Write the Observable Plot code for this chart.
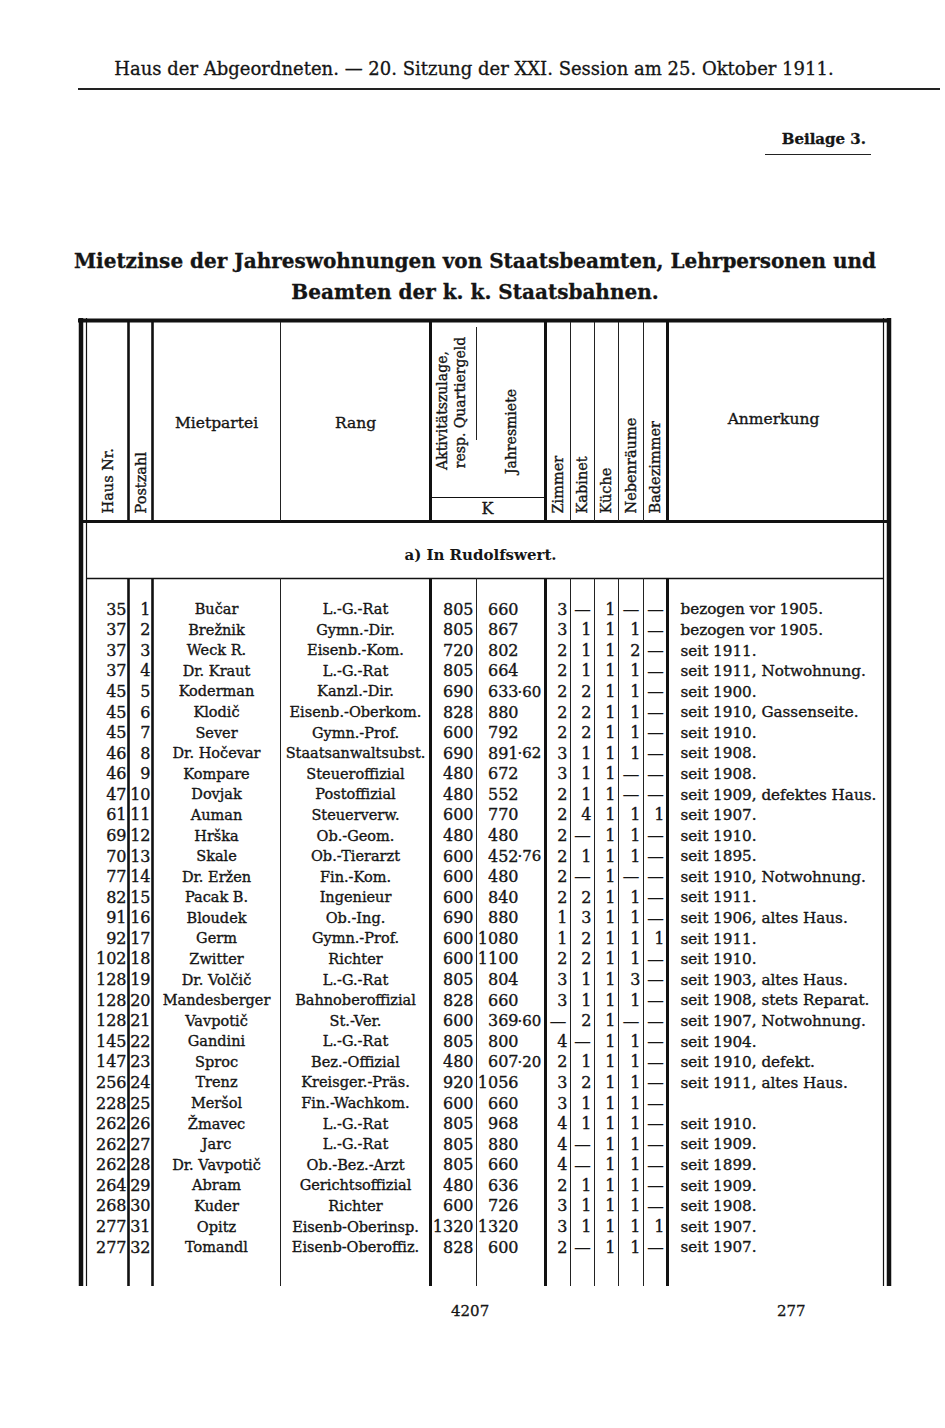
<!DOCTYPE html>
<html><head><meta charset="utf-8">
<script src="https://cdn.jsdelivr.net/npm/d3@7"></script>
<script src="https://cdn.jsdelivr.net/npm/@observablehq/plot@0.6"></script>
<style>
body{margin:0;background:#fff;}
#page{position:relative;width:945px;height:1428px;overflow:hidden;font-family:"DejaVu Serif",serif;color:#151515;}
.abs{position:absolute;white-space:nowrap;-webkit-text-stroke:0.3px #151515;}
</style></head><body><div id="page">
<div class="abs" style="left:0;width:948px;top:58px;text-align:center;font-size:18px;">Haus der Abgeordneten. — 20. Sitzung der XXI. Session am 25. Oktober 1911.</div>
<div class="abs" style="left:78px;width:862px;top:88px;border-top:2px solid #222;"></div>
<div class="abs" style="right:79px;top:130px;font-size:15px;font-weight:bold;">Beilage 3.</div>
<div class="abs" style="left:765px;width:106px;top:154px;border-top:1.5px solid #222"></div>
<div class="abs" style="left:0;width:950px;top:246px;text-align:center;font-size:20px;font-weight:bold;line-height:31px">Mietzinse der Jahreswohnungen von Staatsbeamten, Lehrpersonen und<br>Beamten der k. k. Staatsbahnen.</div>
<div id="chart" class="abs" style="left:0;top:318px;-webkit-text-stroke:0"></div>
<div class="abs" style="left:451px;top:1302px;font-size:15px">4207</div>
<div class="abs" style="left:777px;top:1302px;font-size:15px">277</div>
</div>
<script>
// ---------- data ----------
const hausNr = [35,37,37,37,45,45,45,46,46,47,61,69,70,77,82,91,92,102,128,128,128,145,147,256,228,262,262,262,264,268,277,277];
const postzahl = [1,2,3,4,5,6,7,8,9,10,11,12,13,14,15,16,17,18,19,20,21,22,23,24,25,26,27,28,29,30,31,32];
const mietpartei = ["Bučar","Brežnik","Weck R.","Dr. Kraut","Koderman","Klodič","Sever","Dr. Hočevar","Kompare","Dovjak","Auman","Hrška","Skale","Dr. Eržen","Pacak B.","Bloudek","Germ","Zwitter","Dr. Volčič","Mandesberger","Vavpotič","Gandini","Sproc","Trenz","Meršol","Žmavec","Jarc","Dr. Vavpotič","Abram","Kuder","Opitz","Tomandl"];
const rang = ["L.-G.-Rat","Gymn.-Dir.","Eisenb.-Kom.","L.-G.-Rat","Kanzl.-Dir.","Eisenb.-Oberkom.","Gymn.-Prof.","Staatsanwaltsubst.","Steueroffizial","Postoffizial","Steuerverw.","Ob.-Geom.","Ob.-Tierarzt","Fin.-Kom.","Ingenieur","Ob.-Ing.","Gymn.-Prof.","Richter","L.-G.-Rat","Bahnoberoffizial","St.-Ver.","L.-G.-Rat","Bez.-Offizial","Kreisger.-Präs.","Fin.-Wachkom.","L.-G.-Rat","L.-G.-Rat","Ob.-Bez.-Arzt","Gerichtsoffizial","Richter","Eisenb-Oberinsp.","Eisenb-Oberoffiz."];
const aktivitaet = [805,805,720,805,690,828,600,690,480,480,600,480,600,600,600,690,600,600,805,828,600,805,480,920,600,805,805,805,480,600,1320,828];
const jahresmiete = [660,867,802,664,633.60,880,792,891.62,672,552,770,480,452.76,480,840,880,1080,1100,804,660,369.60,800,607.20,1056,660,968,880,660,636,726,1320,600];
const zimmer = [3,3,2,2,2,2,2,3,3,2,2,2,2,2,2,1,1,2,3,3,null,4,2,3,3,4,4,4,2,3,3,2];
const kabinet = [null,1,1,1,2,2,2,1,1,1,4,null,1,null,2,3,2,2,1,1,2,null,1,2,1,1,null,null,1,1,1,null];
const kueche = [1,1,1,1,1,1,1,1,1,1,1,1,1,1,1,1,1,1,1,1,1,1,1,1,1,1,1,1,1,1,1,1];
const nebenraeume = [null,1,2,1,1,1,1,1,null,null,1,1,1,null,1,1,1,1,3,1,null,1,1,1,1,1,1,1,1,1,1,1];
const badezimmer = [null,null,null,null,null,null,null,null,null,null,1,null,null,null,null,null,1,null,null,null,null,null,null,null,null,null,null,null,null,null,1,null];
const anmerkung = ["bezogen vor 1905.","bezogen vor 1905.","seit 1911.","seit 1911, Notwohnung.","seit 1900.","seit 1910, Gassenseite.","seit 1910.","seit 1908.","seit 1908.","seit 1909, defektes Haus.","seit 1907.","seit 1910.","seit 1895.","seit 1910, Notwohnung.","seit 1911.","seit 1906, altes Haus.","seit 1911.","seit 1910.","seit 1903, altes Haus.","seit 1908, stets Reparat.","seit 1907, Notwohnung.","seit 1904.","seit 1910, defekt.","seit 1911, altes Haus.","","seit 1910.","seit 1909.","seit 1899.","seit 1909.","seit 1908.","seit 1907.","seit 1907."];
const sectionLabel = "a) In Rudolfswert.";

// ---------- layout (not data) ----------
const W = 945, H = 972, TOP = 318, ROW0 = 609, ROWH = 20.58;
const py = (pageY) => (pageY - ROW0) / ROWH;   // page pixel -> row units
const col = {
  haus:[86,128], post:[128,152], miet:[152,280], rang:[280,430], aktiv:[430,476], miete:[476,545],
  zimmer:[545,570], kabinet:[570,594], kueche:[594,618], neben:[618,643], bad:[643,667], anm:[667,884]
};
const SERIF = "DejaVu Serif";
const INK = "#151515";
const ink = {fill: INK, stroke: INK, strokeWidth: 0.35};

const rows = hausNr.map((h, i) => ({
  i, haus: String(h), post: String(postzahl[i]), miet: mietpartei[i], rang: rang[i], aktiv: String(aktivitaet[i]),
  mieteInt: String(Math.floor(jahresmiete[i])),
  mieteDec: Number.isInteger(jahresmiete[i]) ? "" : "·" + d3.format("02d")(Math.round((jahresmiete[i] % 1) * 100)),
  anm: anmerkung[i]
}));
const roomCols = [["zimmer", zimmer], ["kabinet", kabinet], ["kueche", kueche], ["neben", nebenraeume], ["bad", badezimmer]];
const roomCells = roomCols.flatMap(([k, arr]) => arr.map((v, i) => ({k, i, v: v == null ? null : String(v)})));

const vThick = [128,152,430,545,667].map(x => ({x, w: x === 128 || x === 152 ? 2.6 : 3}));
const vThin = [280,570,594,618,643].map(x => ({x}));

const headerRotStart = [
  {x: 108, y: py(513), t: "Haus Nr."},
  {x: 141, y: py(513), t: "Postzahl"},
  {x: 558, y: py(513), t: "Zimmer"},
  {x: 582, y: py(513), t: "Kabinet"},
  {x: 606, y: py(513), t: "Küche"},
  {x: 631, y: py(513), t: "Nebenräume"},
  {x: 655, y: py(513), t: "Badezimmer"}
];
const headerRotMid = [
  {x: 442, y: py(410), t: "Aktivitätszulage,"},
  {x: 460, y: py(402), t: "resp. Quartiergeld"},
  {x: 511, y: py(431), t: "Jahresmiete"}
];
const headerFlat = [
  {x: 216, y: py(423), t: "Mietpartei"},
  {x: 355, y: py(423), t: "Rang"},
  {x: 773, y: py(419), t: "Anmerkung"}
];

const bodyTop = py(578), bodyBot = py(1286);
const plot = Plot.plot({
  width: W, height: H, margin: 0,
  x: {domain: [0, W], range: [0, W], axis: null},
  y: {domain: [py(TOP), py(TOP + H)], range: [0, H], axis: null},
  style: {fontFamily: SERIF, color: INK, background: "transparent"},
  marks: [
    // outer frame
    Plot.ruleX([{x: 80.5, w: 4.5}, {x: 86, w: 1.2}, {x: 883, w: 1.2}, {x: 888.5, w: 4.5}], {x: "x", y1: py(318), y2: bodyBot, strokeWidth: "w", stroke: "#111"}),
    Plot.ruleY([py(320)], {x1: 78, x2: 891, strokeWidth: 4, stroke: "#111"}),
    Plot.ruleY([py(521)], {x1: 80, x2: 889, strokeWidth: 3, stroke: "#111"}),
    Plot.ruleY([py(578)], {x1: 86, x2: 883, strokeWidth: 1.6, stroke: "#111"}),
    Plot.ruleY([py(497)], {x1: 430, x2: 545, strokeWidth: 1, stroke: "#111"}),
    // column separators: header part and body part
    Plot.ruleX(vThick, {x: "x", y1: py(322), y2: py(521), strokeWidth: "w", stroke: "#111"}),
    Plot.ruleX(vThick, {x: "x", y1: bodyTop, y2: bodyBot, strokeWidth: "w", stroke: "#111"}),
    Plot.ruleX(vThin, {x: "x", y1: py(322), y2: py(521), strokeWidth: 1, stroke: "#222"}),
    Plot.ruleX(vThin, {x: "x", y1: bodyTop, y2: bodyBot, strokeWidth: 1, stroke: "#222"}),
    Plot.ruleX([476], {y1: py(327), y2: py(440), strokeWidth: 1, stroke: "#222"}),
    Plot.ruleX([476], {y1: bodyTop, y2: bodyBot, strokeWidth: 1, stroke: "#222"}),
    // header texts
    Plot.text(headerRotStart, {x: "x", y: "y", text: "t", rotate: -90, textAnchor: "start", fontSize: 14.5, ...ink}),
    Plot.text(headerRotMid, {x: "x", y: "y", text: "t", rotate: -90, textAnchor: "middle", fontSize: 14, ...ink}),
    Plot.text(headerFlat, {x: "x", y: "y", text: "t", fontSize: 15.5, ...ink}),
    Plot.text(["K"], {x: 487, y: py(508), text: d => d, fontSize: 16, ...ink}),
    Plot.text([sectionLabel], {x: 480, y: py(555), text: d => d, fontSize: 15, fontWeight: "bold", fill: INK}),
    // body
    Plot.text(rows, {x: col.haus[1] - 2, y: "i", text: "haus", textAnchor: "end", fontSize: 16, ...ink}),
    Plot.text(rows, {x: col.post[1] - 2, y: "i", text: "post", textAnchor: "end", fontSize: 16, ...ink}),
    Plot.text(rows, {x: (col.miet[0] + col.miet[1]) / 2, y: "i", text: "miet", fontSize: 14.5, ...ink}),
    Plot.text(rows, {x: (col.rang[0] + col.rang[1]) / 2, y: "i", text: "rang", fontSize: 14.5, ...ink}),
    Plot.text(rows, {x: col.aktiv[1] - 3, y: "i", text: "aktiv", textAnchor: "end", fontSize: 16, ...ink}),
    Plot.text(rows, {x: 518, y: "i", text: "mieteInt", textAnchor: "end", fontSize: 16, ...ink}),
    Plot.text(rows, {x: 517, y: "i", text: "mieteDec", textAnchor: "start", fontSize: 15, ...ink}),
    Plot.text(roomCells.filter(d => d.v != null), {x: d => col[d.k][1] - 3, y: "i", text: "v", textAnchor: "end", fontSize: 16, ...ink}),
    Plot.text(roomCells.filter(d => d.v == null), {x: d => (col[d.k][0] + col[d.k][1]) / 2, y: "i", text: () => "—", fontSize: 17, fill: INK}),
    Plot.text(rows, {x: col.anm[0] + 13, y: "i", text: "anm", textAnchor: "start", fontSize: 15.2, ...ink})
  ]
});
document.getElementById("chart").appendChild(plot);
</script>
</body></html>
